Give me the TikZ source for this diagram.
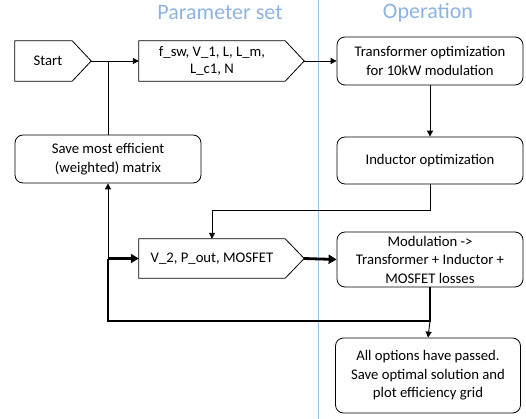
\documentclass[tikz,border=0pt]{standalone}
\usepackage{fontspec}
\setmainfont{Carlito}
\usetikzlibrary{arrows.meta,calc}
\definecolor{ttl}{HTML}{8DB3E2}
\definecolor{divl}{HTML}{9DC3E6}
\begin{document}
\begin{tikzpicture}[x=1pt,y=-1pt,
  every node/.style={font=\fontsize{14.7}{18.5}\selectfont, align=center, inner sep=0pt},
  body/.style={minimum height=40pt},
  outl/.style={draw, line width=0.8pt, line join=miter},
  rbox/.style={draw, line width=0.8pt, rounded corners=8pt, minimum width=186pt},
  thin/.style={line width=0.9pt},
  arr/.style={thin, -{Triangle[length=6pt,width=6pt]}},
  thk/.style={line width=2.8pt},
  thkarr/.style={thk, -{Triangle[length=8pt,width=9pt]}},
  title/.style={text=ttl, font=\fontsize{22}{24}\selectfont}
]
\useasboundingbox (0,0) rectangle (526,419);
\draw[divl, line width=0.8pt] (318,0) -- (318,419);
\node[title] (tps) at (220,13) {Parameter set};
\node[title] (top) at (428,13) {Operation};

\node[body, minimum width=57pt] (start) at (43.5,61) {\hspace*{9pt}Start};
\node[body, minimum width=146pt] (p1) at (212,61) {f\_sw, V\_1, L, L\_m,\\[-2pt]L\_c1, N};
\node[body, minimum width=146pt, minimum height=39pt] (v2) at (212,258.5) {V\_2, P\_out, MOSFET};
\foreach \n in {start,p1,v2}{
  \coordinate (\n tip) at ($(\n.east)+(19,0)$);
  \draw[outl] (\n.north west) -- (\n.north east) -- (\n tip) -- (\n.south east) -- (\n.south west) -- cycle;
}
\node[rbox, minimum height=48pt] (tr) at (430,61) {Transformer optimization\\for 10kW modulation};
\node[rbox, minimum height=47pt] (ind) at (430,160.5) {Inductor optimization};
\node[rbox, minimum height=48pt] (save) at (108,159) {Save most efficient\\(weighted) matrix};
\node[rbox, minimum height=55pt] (mod) at (430,259.5) {Modulation ->\\Transformer + Inductor +\\MOSFET losses};
\node[rbox, minimum width=185pt, minimum height=75pt] (fin) at (428,375.5) {All options have passed.\\Save optimal solution and\\plot efficiency grid};

\coordinate (j1) at (save.north |- start.east);
\coordinate (j2) at (save.south |- v2.west);
\coordinate (c1) at (mod.south |- 0,321);
\coordinate (c2) at (save.south |- 0,321);

\draw[arr] (starttip) -- (p1.west);
\draw[thin] (save.north) -- (j1);
\draw[arr] (p1tip) -- (tr.west);
\draw[arr] (tr.south) -- (ind.north);
\draw[arr] (ind.south) |- ($(v2.north)+(0,-28)$) -- (v2.north);
\draw[thkarr] (v2tip) -- (mod.west);
\draw[thk, line join=miter] (mod.south) -- (c1) -- (c2) -- (j2);
\draw[thkarr] (j2) -- (v2.west);
\draw[arr] (j2) -- (save.south);
\draw[arr] (c1) -- (fin.north);
\end{tikzpicture}
\end{document}
